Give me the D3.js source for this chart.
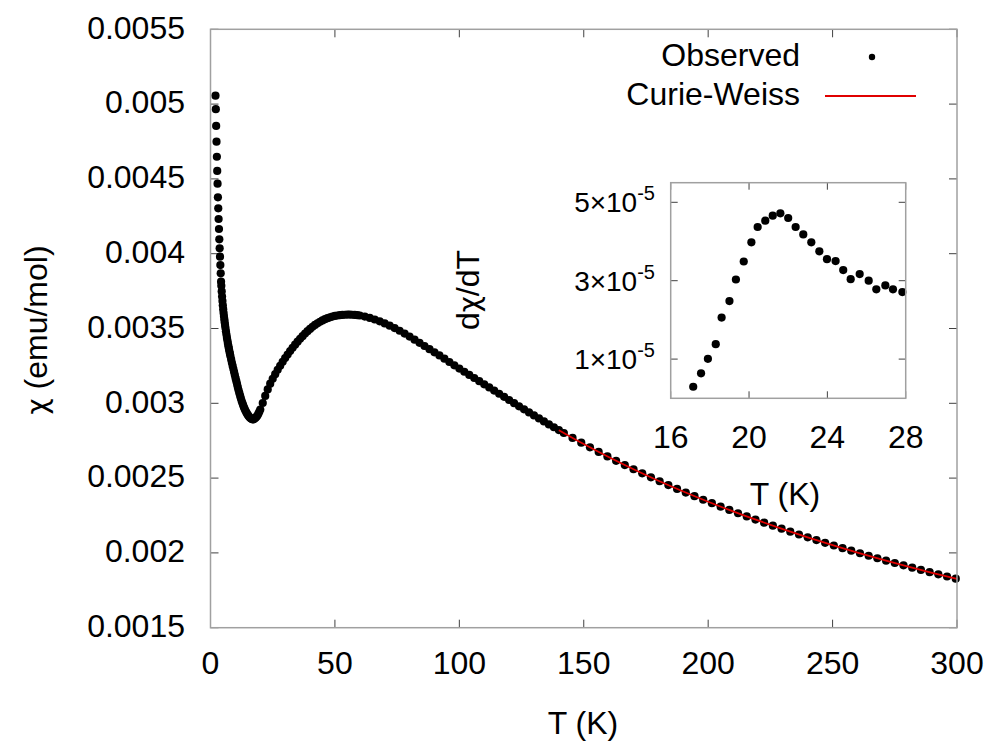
<!DOCTYPE html>
<html>
<head>
<meta charset="utf-8">
<script src="https://cdn.jsdelivr.net/npm/d3@7"></script>
<style>
  html, body { margin: 0; padding: 0; background: #fff; }
  text { font-family: "Liberation Sans", Arial, Helvetica, sans-serif; fill: #000; }
  .greek { font-family: "DejaVu Sans", "Noto Sans", sans-serif; }
</style>
</head>
<body>
<svg id="chart" width="987" height="742"></svg>
<script>
// ---------------- data ----------------
const obsT = [2.00,2.14,2.28,2.42,2.56,2.70,2.84,2.98,3.12,3.26,3.40,3.54,3.68,3.82,3.96,4.10,4.24,
  4.35,4.50,4.65,4.80,4.95,5.10,5.25,5.40,5.55,5.70,5.85,6.00,
  6.2,6.4,6.6,6.8,7.0,7.2,7.4,7.6,7.8,8.0,
  8.3,8.6,8.9,9.2,9.5,9.8,10.1,10.4,10.7,11.0,11.3,11.6,11.9,12.2,12.5,12.8,13.1,13.4,13.7,14.0,
  14.4,14.8,15.2,15.6,16.0,16.4,16.8,17.2,17.6,18.0,18.4,18.8,19.2,19.6,20.0,
  21,22,23,24,25,26,27,28,29,30,31,32,33,34,35,36,37,38,39,40,
  41,42,43,44,45,46,47,48,49,50,51,52,53,54,55,56,57,58,59,60,
  62,64,66,68,70,72,74,76,78,80,82,84,86,88,90,92,94,96,98,100,
  102,104,106,108,110,112,114,116,118,120,122,124,126,128,130,132,134,136,138,140,
  142,145.5,149,152.5,156,159.5,163,166.5,170,173.5,177,180.5,184,187.5,191,194.5,198,201.5,205,208.5,
  212,215.5,219,222.5,226,229.5,233,236.5,240,243.5,247,250.5,254,257.5,261,264.5,268,271.5,275,278.5,
  282,285.5,289,292.5,296,299.5];
const obsChi = [0.005056,0.004966,0.004854,0.004749,0.004648,0.004553,0.004468,0.004377,0.004303,0.004232,0.004165,0.004096,0.004036,0.003980,0.003924,0.003869,0.003813,
  0.003785,0.003748,0.003714,0.003683,0.003655,0.003629,0.003605,0.003583,0.003562,0.003542,0.003523,0.003505,
  0.003482,0.003460,0.003439,0.003419,0.003400,0.003382,0.003365,0.003348,0.003332,0.003316,
  0.003293,0.003271,0.003250,0.003229,0.003208,0.003187,0.003166,0.003146,0.003126,0.003106,0.003087,0.003068,0.003050,0.003033,0.003017,0.003002,0.002988,0.002975,0.002963,0.002952,
  0.002939,0.002927,0.002917,0.002908,0.002901,0.002896,0.002893,0.002893,0.002896,0.002901,0.002908,0.002917,0.002929,0.002943,0.002958,
  0.003002,0.003049,0.003093,0.003131,0.003164,0.003195,0.003224,0.003251,0.003277,0.003302,0.003326,0.003349,0.003371,0.003392,0.003412,0.003431,0.003449,0.003466,0.003482,0.003497,
  0.003511,0.003524,0.003535,0.003545,0.003554,0.003562,0.003569,0.003575,0.003580,0.003584,0.003587,0.003589,0.003591,0.003592,0.003593,0.003593,0.003592,0.003591,0.003589,0.003587,
  0.003580,0.003571,0.003560,0.003548,0.003534,0.003519,0.003503,0.003485,0.003466,0.003446,0.003425,0.003404,0.003383,0.003362,0.003341,0.003320,0.003298,0.003276,0.003254,0.003232,
  0.003211,0.003190,0.003169,0.003148,0.003127,0.003106,0.003085,0.003064,0.003043,0.003022,0.003001,0.002980,0.002960,0.002939,0.002919,0.002899,0.002879,0.002859,0.002840,0.002821,
  0.0028015,0.0027687,0.0027367,0.0027054,0.0026748,0.0026450,0.0026157,0.0025871,0.0025592,0.0025318,0.0025050,0.0024788,0.0024531,0.0024279,0.0024032,0.0023791,0.0023554,0.0023322,0.0023095,0.0022871,
  0.0022652,0.0022437,0.0022227,0.0022020,0.0021817,0.0021618,0.0021422,0.0021230,0.0021041,0.0020856,0.0020674,0.0020495,0.0020319,0.0020146,0.0019976,0.0019809,0.0019644,0.0019483,0.0019324,0.0019167,
  0.0019013,0.0018862,0.0018713,0.0018566,0.0018421,0.0018279];

const fitT = [140,150,160,170,180,190,200,210,220,230,240,250,260,270,280,290,300];
const fitChi = [0.0028206,0.0027277,0.0026407,0.0025592,0.0024825,0.0024102,0.0023421,0.0022777,0.0022168,0.0021590,0.0021041,0.0020520,0.0020024,0.0019552,0.0019101,0.0018670,0.0018259];

const insetT = [17.15,17.55,17.9,18.3,18.6,19.0,19.33,19.73,20.12,20.44,20.83,21.21,21.6,22.0,22.38,22.77,23.18,23.59,23.98,24.42,24.81,25.19,25.65,26.11,26.5,26.96,27.35,27.83];
const insetDchi = [0.295e-5,0.637e-5,1.008e-5,1.38e-5,2.06e-5,2.48e-5,3.03e-5,3.49e-5,3.98e-5,4.37e-5,4.53e-5,4.66e-5,4.72e-5,4.60e-5,4.37e-5,4.18e-5,3.98e-5,3.75e-5,3.55e-5,3.50e-5,3.27e-5,3.04e-5,3.17e-5,3.00e-5,2.78e-5,2.88e-5,2.78e-5,2.71e-5];

const xTicks = [0,50,100,150,200,250,300];
const xTickLabels = ["0","50","100","150","200","250","300"];
const yTicks = [0.0015,0.002,0.0025,0.003,0.0035,0.004,0.0045,0.005,0.0055];
const yTickLabels = ["0.0015","0.002","0.0025","0.003","0.0035","0.004","0.0045","0.005","0.0055"];
const insetXTicks = [16,20,24,28];
const insetXTickLabels = ["16","20","24","28"];
const insetYTicks = [1e-5,3e-5,5e-5];
const insetYTickMantissa = ["1","3","5"];

const legendLabels = ["Observed","Curie-Weiss"];

// ---------------- drawing ----------------
const svg = d3.select("#chart");
svg.append("rect").attr("width",987).attr("height",742).attr("fill","#fff");

const FS = 32;
const frameColor = "#a0a0a0";
const tickColor = "#404040";
const R = 4.1;

const x = d3.scaleLinear().domain([0,300]).range([210.5,957]);
const y = d3.scaleLinear().domain([0.0015,0.0055]).range([627.7,29.3]);

// ticks (inward, mirrored)
const tl = 8;
const g = svg.append("g");
xTicks.forEach(t => {
  g.append("line").attr("x1",x(t)).attr("x2",x(t)).attr("y1",y.range()[0]).attr("y2",y.range()[0]-tl).attr("stroke",tickColor);
  g.append("line").attr("x1",x(t)).attr("x2",x(t)).attr("y1",y.range()[1]).attr("y2",y.range()[1]+tl).attr("stroke",tickColor);
});
yTicks.forEach(t => {
  g.append("line").attr("x1",x.range()[0]).attr("x2",x.range()[0]+tl).attr("y1",y(t)).attr("y2",y(t)).attr("stroke",tickColor);
  g.append("line").attr("x1",x.range()[1]).attr("x2",x.range()[1]-tl).attr("y1",y(t)).attr("y2",y(t)).attr("stroke",tickColor);
});

// tick labels
xTicks.forEach((t,i) => {
  svg.append("text").attr("x",x(t)).attr("y",663).attr("dy","0.35em")
    .attr("text-anchor","middle").attr("font-size",FS).text(xTickLabels[i]);
});
yTicks.forEach((t,i) => {
  svg.append("text").attr("x",185).attr("y",y(t)-2).attr("dy","0.35em")
    .attr("text-anchor","end").attr("font-size",FS).text(yTickLabels[i]);
});

// axis titles
svg.append("text").attr("x",583).attr("y",723).attr("dy","0.35em")
  .attr("text-anchor","middle").attr("font-size",FS).text("T (K)");
const yl = svg.append("text").attr("transform","translate(36,330) rotate(-90)").attr("dy","0.35em")
  .attr("text-anchor","middle").attr("font-size",FS);
yl.append("tspan").attr("class","greek").attr("font-size",28).text("χ");
yl.append("tspan").text(" (emu/mol)");

// observed points
const obsData = obsT.map((t,i)=>[t,obsChi[i]]);
svg.append("g").selectAll("circle").data(obsData).join("circle")
  .attr("cx",d=>x(d[0])).attr("cy",d=>y(d[1])).attr("r",R).attr("fill","#000");

// fit line (drawn over the points)
const fitData = fitT.map((t,i)=>[t,fitChi[i]]);
svg.append("path").datum(fitData)
  .attr("d", d3.line().x(d=>x(d[0])).y(d=>y(d[1])).curve(d3.curveMonotoneX))
  .attr("fill","none").attr("stroke","#e00000").attr("stroke-width",1.8);

// frame
svg.append("rect").attr("x",x.range()[0]).attr("y",y.range()[1])
  .attr("width",x.range()[1]-x.range()[0]).attr("height",y.range()[0]-y.range()[1])
  .attr("fill","none").attr("stroke",frameColor).attr("stroke-width",1.5);

// legend
svg.append("text").attr("x",800).attr("y",55).attr("dy","0.35em")
  .attr("text-anchor","end").attr("font-size",FS).text(legendLabels[0]);
svg.append("circle").attr("cx",872).attr("cy",57).attr("r",3.2).attr("fill","#000");
svg.append("text").attr("x",800).attr("y",94).attr("dy","0.35em")
  .attr("text-anchor","end").attr("font-size",FS).text(legendLabels[1]);
svg.append("line").attr("x1",825).attr("x2",916).attr("y1",96).attr("y2",96)
  .attr("stroke","#e00000").attr("stroke-width",2);

// ---------------- inset ----------------
const ix = d3.scaleLinear().domain([16,28]).range([670.7,905.7]);
const iy = d3.scaleLinear().domain([0,5.5e-5]).range([398.3,182.7]);
const ig = svg.append("g");
ig.append("rect").attr("x",ix.range()[0]).attr("y",iy.range()[1])
  .attr("width",ix.range()[1]-ix.range()[0]).attr("height",iy.range()[0]-iy.range()[1])
  .attr("fill","#fff");
const itl = 7;
insetXTicks.forEach((t,i) => {
  ig.append("line").attr("x1",ix(t)).attr("x2",ix(t)).attr("y1",iy.range()[0]).attr("y2",iy.range()[0]-itl).attr("stroke",tickColor);
  ig.append("line").attr("x1",ix(t)).attr("x2",ix(t)).attr("y1",iy.range()[1]).attr("y2",iy.range()[1]+itl).attr("stroke",tickColor);
  ig.append("text").attr("x",ix(t)).attr("y",437).attr("dy","0.35em")
    .attr("text-anchor","middle").attr("font-size",FS).text(insetXTickLabels[i]);
});
insetYTicks.forEach((t,i) => {
  ig.append("line").attr("x1",ix.range()[0]).attr("x2",ix.range()[0]+itl).attr("y1",iy(t)).attr("y2",iy(t)).attr("stroke",tickColor);
  ig.append("line").attr("x1",ix.range()[1]).attr("x2",ix.range()[1]-itl).attr("y1",iy(t)).attr("y2",iy(t)).attr("stroke",tickColor);
  const tx = ig.append("text").attr("x",655).attr("y",iy(t)).attr("dy","0.35em")
    .attr("text-anchor","end").attr("font-size",28);
  tx.append("tspan").text(insetYTickMantissa[i] + "×10");
  tx.append("tspan").attr("font-size",20).attr("dy","-0.6em").text("-5");
});
const insetData = insetT.map((t,i)=>[t,insetDchi[i]]);
ig.append("g").selectAll("circle").data(insetData).join("circle")
  .attr("cx",d=>ix(d[0])).attr("cy",d=>iy(d[1])).attr("r",R).attr("fill","#000");
ig.append("rect").attr("x",ix.range()[0]).attr("y",iy.range()[1])
  .attr("width",ix.range()[1]-ix.range()[0]).attr("height",iy.range()[0]-iy.range()[1])
  .attr("fill","none").attr("stroke",frameColor).attr("stroke-width",1.5);
ig.append("text").attr("x",785).attr("y",494).attr("dy","0.35em")
  .attr("text-anchor","middle").attr("font-size",FS).text("T (K)");
const dl = ig.append("text").attr("transform","translate(468,290) rotate(-90)").attr("dy","0.35em")
  .attr("text-anchor","middle").attr("font-size",FS);
dl.append("tspan").text("d");
dl.append("tspan").attr("class","greek").attr("font-size",28).text("χ");
dl.append("tspan").text("/dT");
</script>
</body>
</html>
